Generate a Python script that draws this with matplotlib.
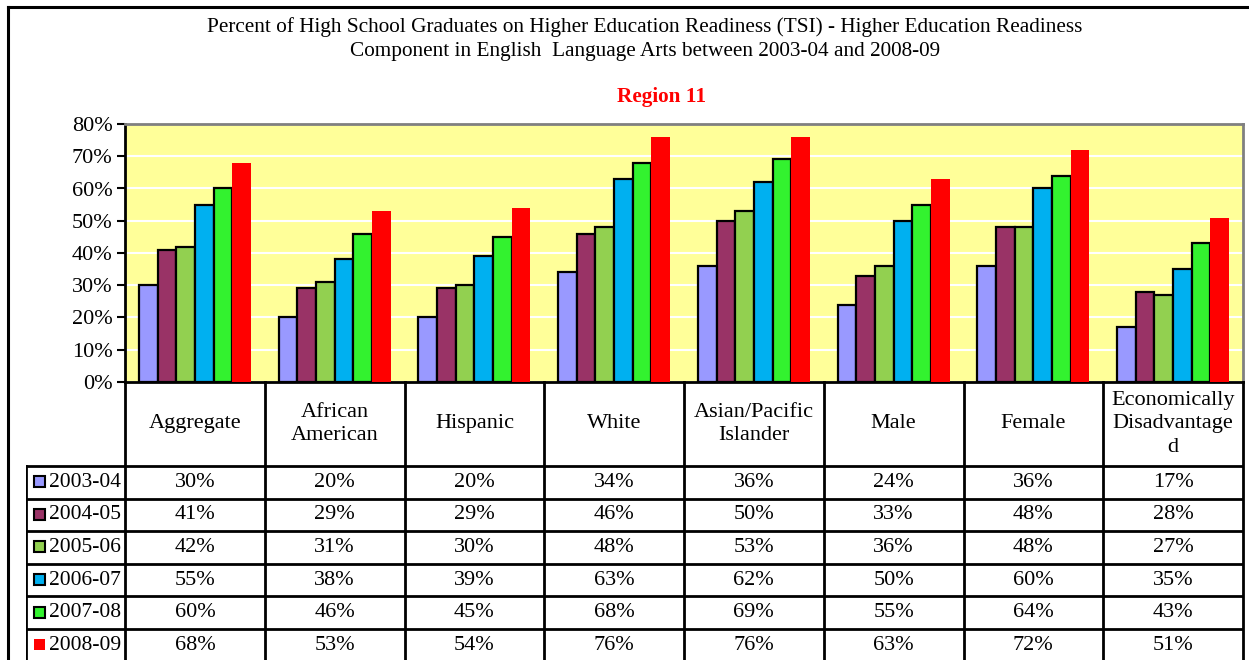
import matplotlib
matplotlib.use("Agg")
import matplotlib.pyplot as plt
from matplotlib.lines import Line2D
from matplotlib.patches import Rectangle
import numpy as np

plt.rcParams['font.family'] = ['Liberation Serif', 'DejaVu Serif']

categories = ["Aggregate", "African\nAmerican", "Hispanic", "White",
              "Asian/Pacific\nIslander", "Male", "Female",
              "Economically\nDisadvantage\nd"]
years = ["2003-04", "2004-05", "2005-06", "2006-07", "2007-08", "2008-09"]
vals_0304 = [30, 20, 20, 34, 36, 24, 36, 17]
vals_0405 = [41, 29, 29, 46, 50, 33, 48, 28]
vals_0506 = [42, 31, 30, 48, 53, 36, 48, 27]
vals_0607 = [55, 38, 39, 63, 62, 50, 60, 35]
vals_0708 = [60, 46, 45, 68, 69, 55, 64, 43]
vals_0809 = [68, 53, 54, 76, 76, 63, 72, 51]
series = [vals_0304, vals_0405, vals_0506, vals_0607, vals_0708, vals_0809]
colors = ["#9999FF", "#993366", "#92D050", "#00B0F0", "#33F22F", "#FF0000"]
edges = ["black", "black", "black", "black", "black", "none"]

W, H = 1249, 660
fig = plt.figure(figsize=(W / 100, H / 100), dpi=100)
fs = 16

# pixel helpers
def fx(px):
    return px / W

def fy(py):
    return 1 - py / H

plot_l, plot_r, plot_t, plot_b = 125, 1243, 124, 382
ax = fig.add_axes([fx(plot_l), fy(plot_b), fx(plot_r) - fx(plot_l), fy(plot_t) - fy(plot_b)])
ax.set_facecolor("#FFFF99")

n = len(series)
bw = 1 / (n + 1.5)
x = np.arange(len(categories))
for j, vals in enumerate(series):
    ax.bar(x + (j - (n - 1) / 2) * bw, vals, bw, color=colors[j],
           edgecolor=edges[j], linewidth=1.6, zorder=3)

ax.set_xlim(-0.5, len(categories) - 0.5)
ax.set_ylim(0, 80)
ax.set_yticks(range(0, 81, 10))
ax.set_yticklabels([f"{v}%" for v in range(0, 81, 10)], fontsize=fs)
ax.yaxis.grid(True, color="white", linewidth=1.5, zorder=1)
ax.set_axisbelow(True)
ax.set_xticks([])
ax.tick_params(axis="y", direction="out", length=6, width=1.5, pad=3)
ax.spines["left"].set_linewidth(2)
ax.spines["bottom"].set_linewidth(2)
ax.spines["top"].set_color("#808080")
ax.spines["top"].set_linewidth(2)
ax.spines["right"].set_color("#808080")
ax.spines["right"].set_linewidth(2)

# data table below the plot
row_h = 32.6
head_h = 84
leg_l = 26
tab = fig.add_axes([fx(leg_l), 0, fx(plot_r) - fx(leg_l), fy(plot_b)])
tab.set_xlim(leg_l, plot_r)
tab.set_ylim(H, plot_b)
tab.axis("off")
cw = (plot_r - plot_l) / len(categories)
lw = 2

# column borders
for i in range(len(categories) + 1):
    cx = plot_l + i * cw
    tab.plot([cx, cx], [plot_b, H], color="black", lw=lw, clip_on=False)
tab.plot([leg_l, leg_l], [plot_b + head_h, H], color="black", lw=lw)
# row borders
for r in range(len(years) + 1):
    ry = plot_b + head_h + r * row_h
    tab.plot([leg_l, plot_r], [ry, ry], color="black", lw=lw)

for i, cat in enumerate(categories):
    tab.text(plot_l + (i + 0.5) * cw, plot_b + head_h / 2, cat, ha="center", va="center",
             fontsize=fs, linespacing=1.35)

for r, (yr, vals) in enumerate(zip(years, series)):
    cy = plot_b + head_h + (r + 0.5) * row_h
    tab.add_patch(Rectangle((34, cy - 6), 11, 11, facecolor=colors[r],
                            edgecolor=edges[r], linewidth=1.5))
    tab.text(49, cy, yr, ha="left", va="center", fontsize=15.5)
    for i, v in enumerate(vals):
        tab.text(plot_l + (i + 0.5) * cw, cy, f"{v}%", ha="center", va="center", fontsize=fs)

# titles
fig.text(fx(645), fy(39), "Percent of High School Graduates on Higher Education Readiness (TSI) - Higher Education Readiness\n"
         "Component in English  Language Arts between 2003-04 and 2008-09",
         ha="center", va="center", fontsize=15.3, linespacing=1.35)
fig.text(fx(662), fy(97), "Region 11", ha="center", va="center", fontsize=15.3,
         color="red", fontweight="bold")

# chart frame
fig.add_artist(Line2D([fx(8), fx(8)], [fy(7), 0], color="black", lw=2.2))
fig.add_artist(Line2D([fx(8), 1], [fy(7), fy(7)], color="black", lw=2.2))

fig.savefig("out.png", dpi=100)
